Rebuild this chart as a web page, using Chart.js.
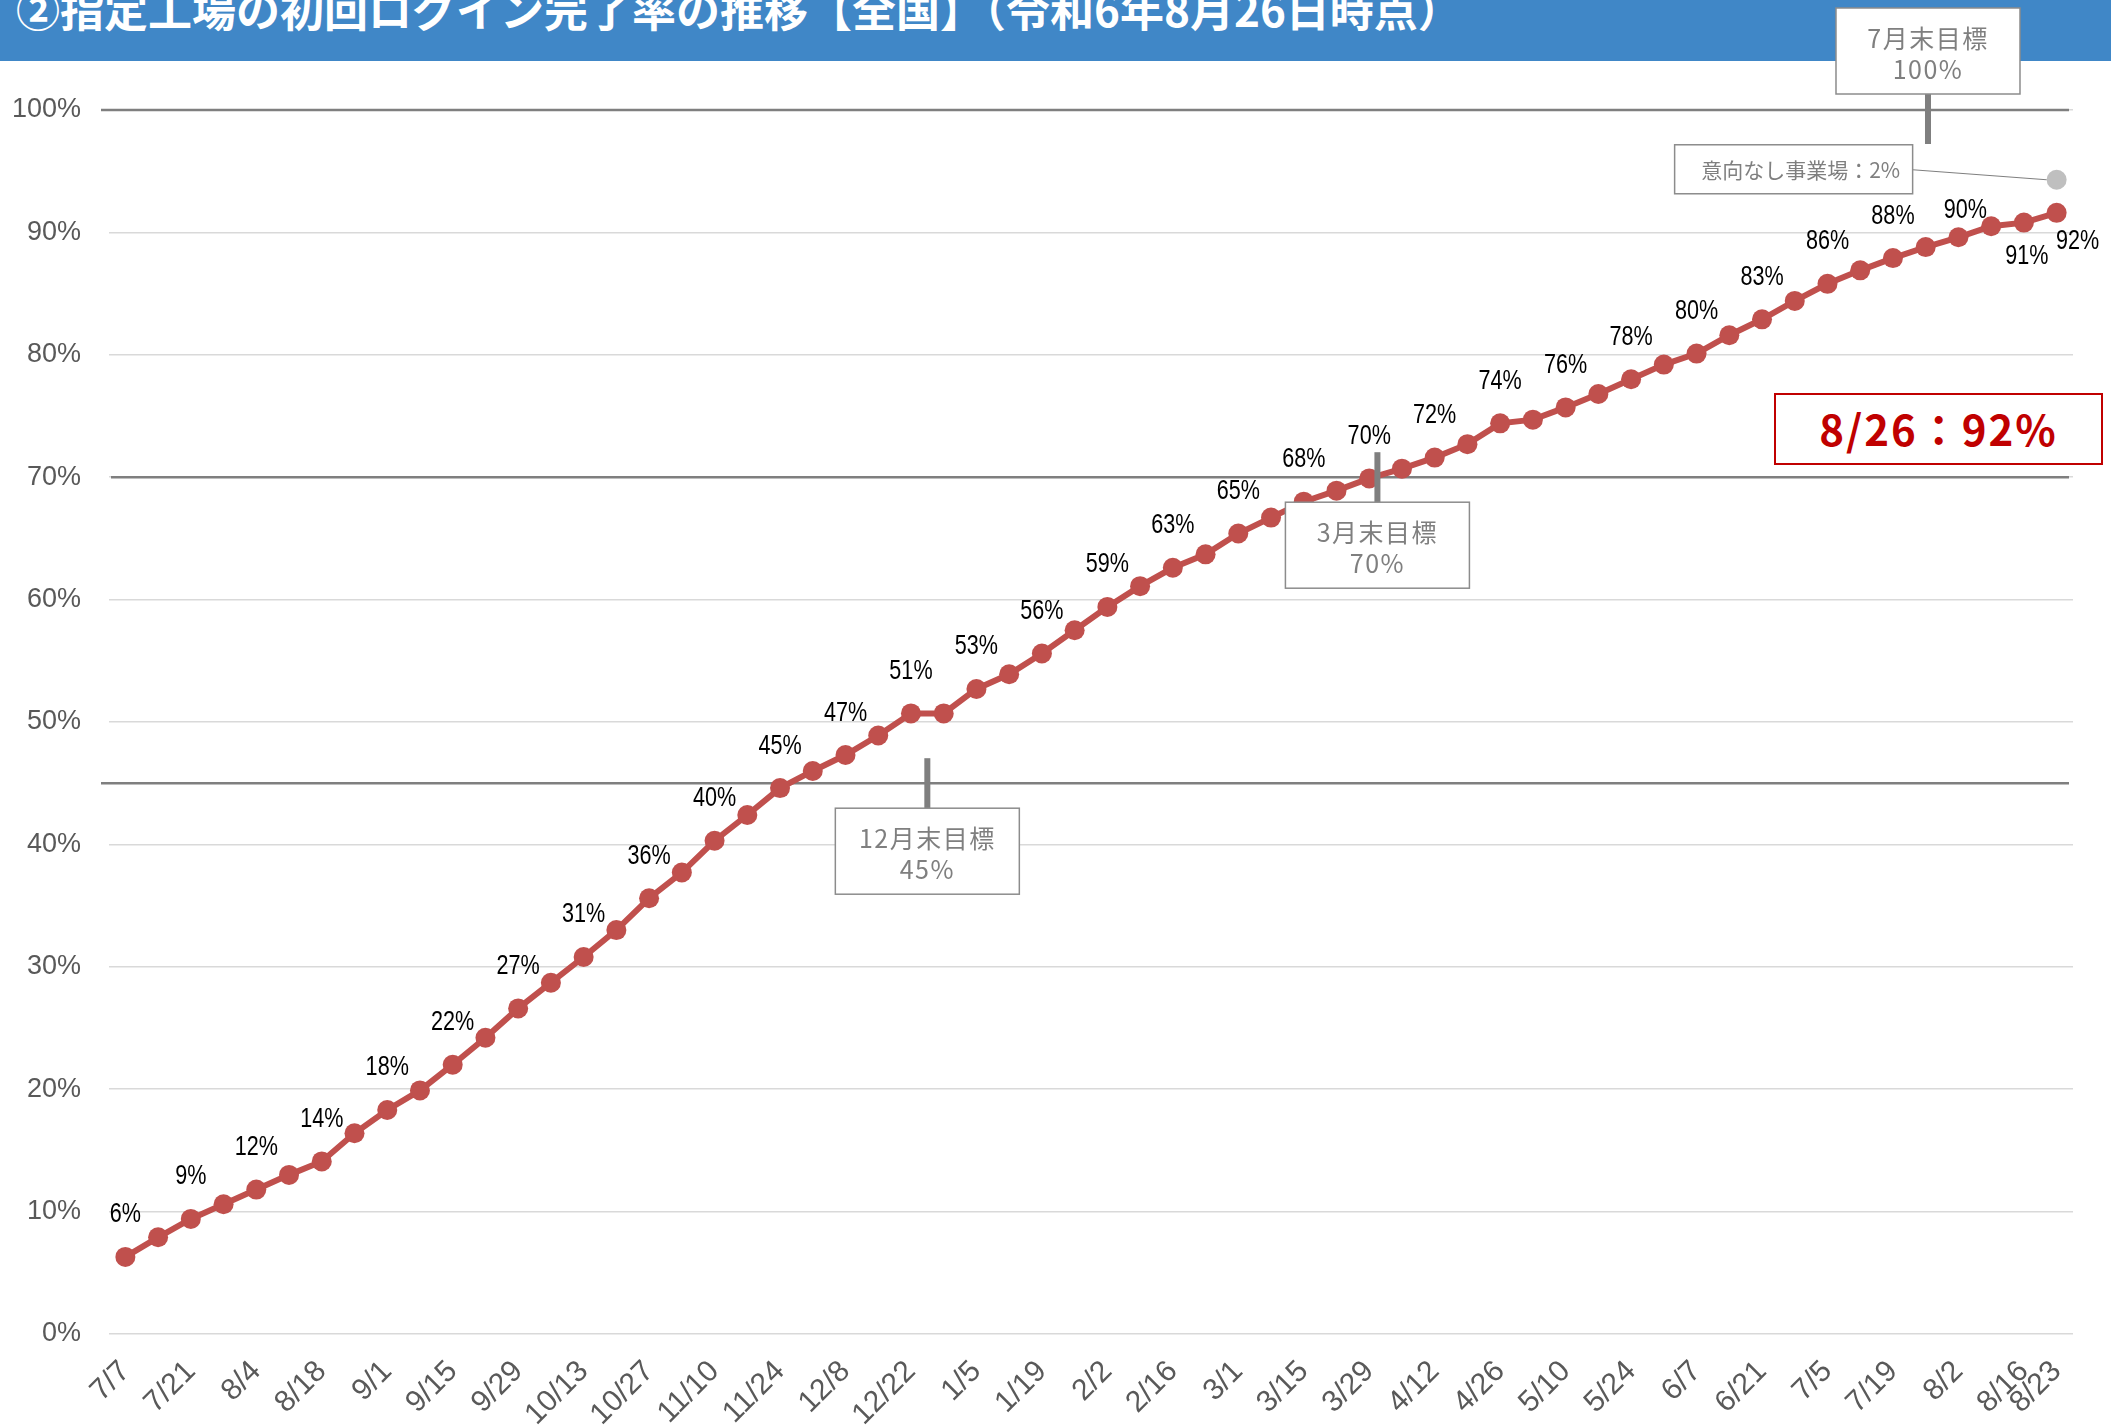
<!DOCTYPE html>
<html lang="ja">
<head>
<meta charset="utf-8">
<title>指定工場の初回ログイン完了率の推移</title>
<script src="https://cdn.jsdelivr.net/npm/chart.js@4.4.1/dist/chart.umd.min.js"></script>
<style>
  html, body { margin: 0; padding: 0; background: #fff; }
  #wrap { position: relative; width: 2123px; height: 1427px; overflow: hidden; }
  #title { position: absolute; left: 0; top: 0; width: 2111px; height: 61px; background: #4087c7; overflow: hidden; }
  #title span { position: absolute; left: 16px; top: -14px; font: bold 44px/44px "Noto Sans CJK JP", sans-serif; color: #fff; white-space: nowrap; }
  #chart { position: absolute; left: 0; top: 0; }
  #now { position: absolute; left: 1774px; top: 393px; width: 329px; height: 72px; box-sizing: border-box;
         border: 2.5px solid #c00000; background: #fff; color: #c00000; text-align: center;
         font: bold 42px/66px "Noto Sans CJK JP", sans-serif; letter-spacing: 2px; }
</style>
</head>
<body>
<div id="wrap">
  <div id="title"><span>②指定工場の初回ログイン完了率の推移【全国】（令和6年8月26日時点）</span></div>
  <canvas id="chart" width="2123" height="1427"></canvas>
  <div id="now">8/26：92%</div>
</div>
<script>
// weekly dates (Fri)
const dates = [
  "7/7","7/14","7/21","7/28","8/4","8/11","8/18","8/25",
  "9/1","9/8","9/15","9/22","9/29","10/6","10/13","10/20","10/27",
  "11/3","11/10","11/17","11/24","12/1","12/8","12/15","12/22","12/29",
  "1/5","1/12","1/19","1/26","2/2","2/9","2/16","2/23",
  "3/1","3/8","3/15","3/22","3/29","4/5","4/12","4/19","4/26",
  "5/3","5/10","5/17","5/24","5/31","6/7","6/14","6/21","6/28",
  "7/5","7/12","7/19","7/26","8/2","8/9","8/16","8/23"
];

// login completion rate (%)
const rates = [
  6.3, 7.9, 9.4, 10.6, 11.8, 13.0, 14.1, 16.4,
  18.3, 19.9, 22.0, 24.2, 26.6, 28.7, 30.8, 33.0, 35.6,
  37.7, 40.3, 42.4, 44.6, 46.0, 47.3, 48.9, 50.7, 50.7,
  52.7, 53.9, 55.6, 57.5, 59.4, 61.1, 62.6, 63.7,
  65.4, 66.7, 68.0, 68.9, 69.9, 70.7, 71.6, 72.7, 74.4,
  74.7, 75.7, 76.8, 78.0, 79.2, 80.1, 81.6, 82.9, 84.4,
  85.8, 86.9, 87.9, 88.8, 89.6, 90.5, 90.8, 91.6
];

// latest rate + 意向なし事業場 (2%)
const noIntent = dates.map((d, i) => i === dates.length - 1 ? 94.3 : null);

// targets: month-end goals
const targetNames = ["12月末目標", "3月末目標", "7月末目標"];
const targetRates = [45, 70, 100];
const targetAt = [24.5, 38.25, 55.07]; // position on the week axis

const yTicks = [0, 10, 20, 30, 40, 50, 60, 70, 80, 90, 100];

const GRAY = "#7f7f7f";
const JP = '"Noto Sans CJK JP", sans-serif';

const targetPlugin = {
  id: "targets",
  beforeDatasetsDraw(chart) {
    const { ctx, chartArea: a, scales: { y } } = chart;
    ctx.save();
    ctx.strokeStyle = GRAY;
    ctx.lineWidth = 2.5;
    targetRates.forEach(v => {
      const py = y.getPixelForValue(v);
      ctx.beginPath();
      ctx.moveTo(v === 70 ? a.left + 2 : a.left - 8, py);
      ctx.lineTo(a.right - 4, py);
      ctx.stroke();
    });
    ctx.restore();
  },
  afterDatasetsDraw(chart) {
    const { ctx, scales: { x, y } } = chart;
    ctx.save();
    targetRates.forEach((v, k) => {
      const px = x.getPixelForValue(targetAt[k]);
      const py = y.getPixelForValue(v);
      const above = v === 100;
      const top = above ? py - 102 : py + 25;
      ctx.fillStyle = GRAY;
      if (above) ctx.fillRect(px - 3, py - 17, 6, 51);
      else ctx.fillRect(px - 3, py - 25, 6, 50);
      ctx.fillStyle = "#fff";
      ctx.fillRect(px - 92, top, 184, 86);
      ctx.strokeStyle = "#8c8c8c";
      ctx.lineWidth = 1.5;
      ctx.strokeRect(px - 92, top, 184, 86);
      ctx.fillStyle = GRAY;
      ctx.font = "25px " + JP;
      ctx.letterSpacing = "1.5px";
      ctx.textAlign = "center";
      ctx.textBaseline = "middle";
      ctx.fillText(targetNames[k], px, top + 30);
      ctx.fillText(v + "%", px, top + 61);
      ctx.letterSpacing = "0px";
    });

    // 意向なし事業場 callout
    const dot = chart.getDatasetMeta(1).data[dates.length - 1];
    const left = dot.x - 382, top = dot.y - 35;
    ctx.strokeStyle = GRAY;
    ctx.lineWidth = 1.2;
    ctx.beginPath();
    ctx.moveTo(left + 238, top + 25);
    ctx.lineTo(dot.x - 10, dot.y);
    ctx.stroke();
    ctx.fillStyle = "#fff";
    ctx.fillRect(left, top, 238, 49);
    ctx.strokeStyle = "#8c8c8c";
    ctx.lineWidth = 1.5;
    ctx.strokeRect(left, top, 238, 49);
    ctx.fillStyle = GRAY;
    ctx.font = "21px " + JP;
    ctx.textAlign = "center";
    ctx.textBaseline = "middle";
    ctx.fillText("意向なし事業場：2%", left + 126, top + 25);
    ctx.restore();
  }
};

// value labels on every other week, plus the last one
const labelShift = { 56: [7, -27], 58: [3, 34], 59: [21, 29] };
const labelPlugin = {
  id: "pointLabels",
  afterDatasetsDraw(chart) {
    const ctx = chart.ctx;
    const meta = chart.getDatasetMeta(0);
    ctx.save();
    ctx.font = '27px "Liberation Sans", sans-serif';
    ctx.fillStyle = "#000";
    ctx.textAlign = "center";
    ctx.textBaseline = "middle";
    meta.data.forEach((pt, i) => {
      if (i % 2 !== 0 && i !== rates.length - 1) return;
      const off = labelShift[i] || [0, -42];
      ctx.save();
      ctx.translate(pt.x + off[0], pt.y + off[1]);
      ctx.scale(0.8, 1); // narrow face like the original
      ctx.fillText(Math.round(rates[i]) + "%", 0, 0);
      ctx.restore();
    });
    ctx.restore();
  }
};

new Chart(document.getElementById("chart"), {
  type: "line",
  data: {
    labels: dates,
    datasets: [{
      label: "初回ログイン完了率",
      data: rates,
      borderColor: "#c0504d",
      backgroundColor: "#c0504d",
      borderWidth: 6,
      pointRadius: 10,
      pointBorderWidth: 0,
      pointBackgroundColor: "#c0504d",
      tension: 0
    }, {
      label: "意向なし事業場",
      data: noIntent,
      showLine: false,
      pointRadius: 10,
      pointBorderWidth: 0,
      pointBackgroundColor: "#bfbfbf"
    }]
  },
  options: {
    responsive: false,
    animation: false,
    devicePixelRatio: 1,
    layout: { padding: { top: 110, right: 50, left: 0, bottom: 0 } },
    plugins: { legend: { display: false }, tooltip: { enabled: false }, title: { display: false } },
    scales: {
      x: {
        offset: true,
        grid: { display: false },
        border: { display: false },
        afterFit: s => { s.height = 93; },
        ticks: {
          autoSkip: false,
          minRotation: 45,
          maxRotation: 45,
          padding: 12,
          color: "#595959",
          font: { family: '"Liberation Sans", sans-serif', size: 30 },
          callback: (v, i) => (i % 2 === 0 || i === dates.length - 1) ? dates[i] : ""
        }
      },
      y: {
        min: 0,
        max: 100,
        afterFit: s => { s.width = 109; },
        afterBuildTicks: s => { s.ticks = yTicks.map(v => ({ value: v })); },
        grid: { color: "#d9d9d9", lineWidth: 1.5, drawTicks: false },
        border: { display: false },
        ticks: {
          padding: 28,
          color: "#595959",
          font: { family: '"Liberation Sans", sans-serif', size: 27 },
          callback: v => v + "%"
        }
      }
    }
  },
  plugins: [targetPlugin, labelPlugin]
});
</script>
</body>
</html>
